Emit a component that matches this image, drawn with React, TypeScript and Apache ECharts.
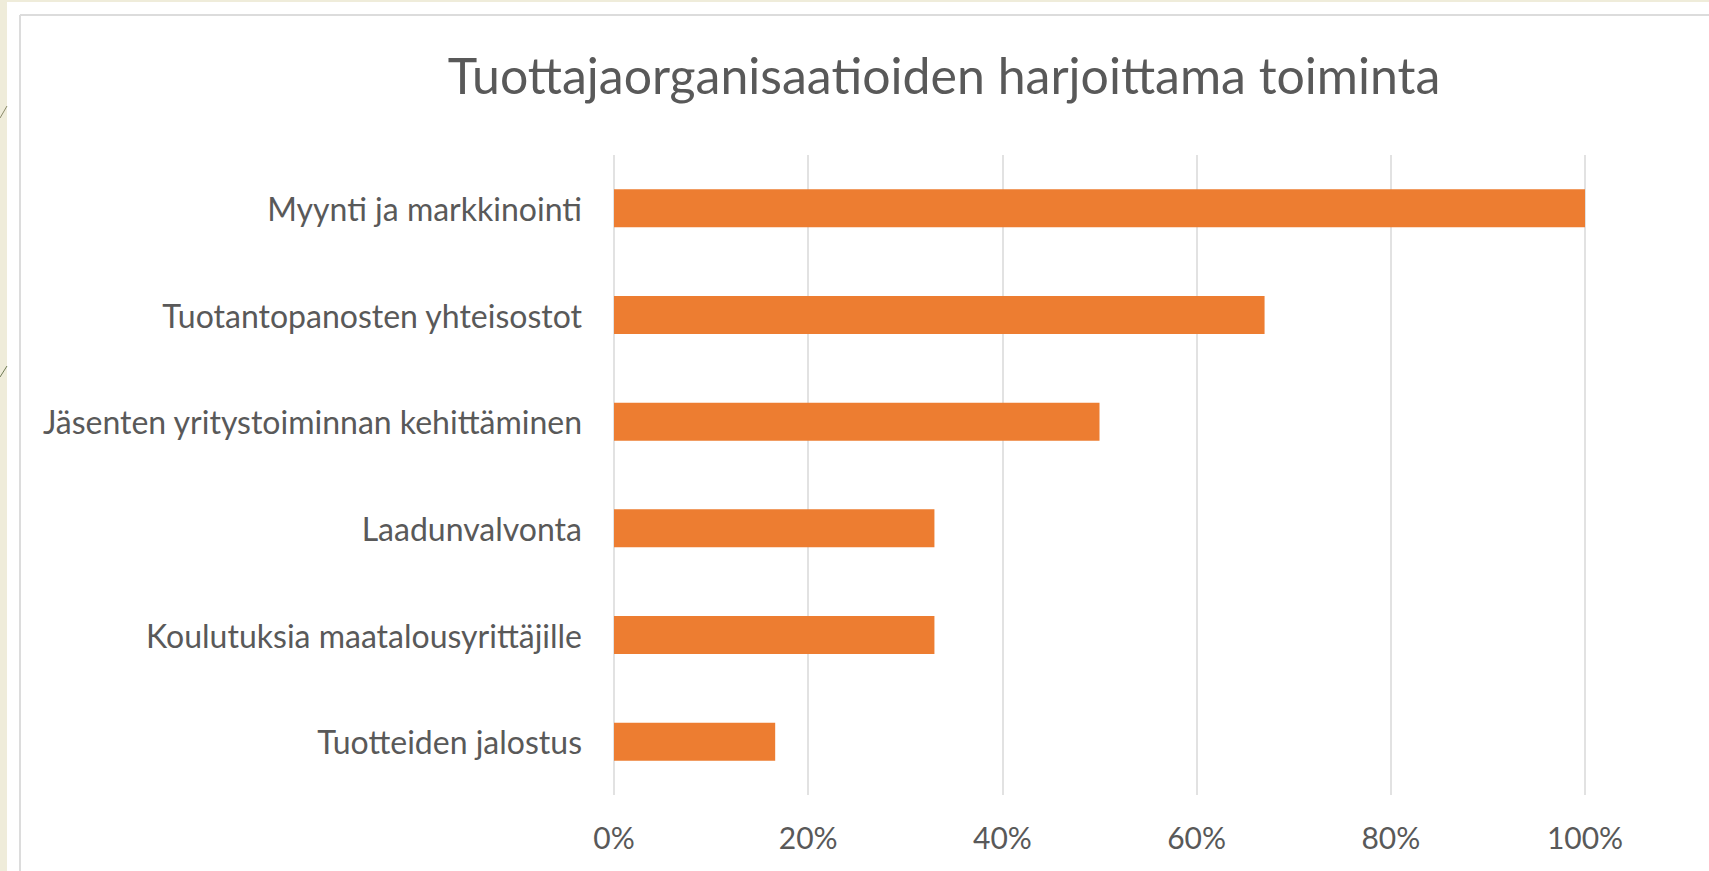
import React, { useEffect, useRef } from "react";
import * as echarts from "echarts";

const categories = [
  "Myynti ja markkinointi",
  "Tuotantopanosten yhteisostot",
  "Jäsenten yritystoiminnan kehittäminen",
  "Laadunvalvonta",
  "Koulutuksia maatalousyrittäjille",
  "Tuotteiden jalostus",
];
const shares = [1.0, 0.67, 0.5, 0.33, 0.33, 0.166];
const titleText = "Tuottajaorganisaatioiden harjoittama toiminta";

const FONT = "Lato, 'Open Sans', sans-serif";
const TEXT = "#595959";

export default function App() {
  const ref = useRef<HTMLDivElement>(null);
  useEffect(() => {
    if (!ref.current) return;
    const chart = echarts.init(ref.current, null, { renderer: "svg" });
    chart.setOption({
      animation: false,
      backgroundColor: "#EFECDA",
      title: {
        text: titleText,
        left: 939,
        top: 45,
        textAlign: "center",
        textStyle: { fontFamily: FONT, fontWeight: "normal", fontSize: 50, color: TEXT },
      },
      graphic: [
        { type: "rect", z: -10, shape: { x: 7, y: 2, width: 1702, height: 869 }, style: { fill: "#ffffff" } },
        { type: "line", z: -9, shape: { x1: 20, y1: 15, x2: 20, y2: 871 }, style: { stroke: "#dcdcdc", lineWidth: 2 } },
        { type: "line", z: -9, shape: { x1: 20, y1: 15, x2: 1709, y2: 15 }, style: { stroke: "#dcdcdc", lineWidth: 2 } },
        { type: "line", z: -9, shape: { x1: 0, y1: 118, x2: 7, y2: 106 }, style: { stroke: "#8a8a6a", lineWidth: 1 } },
        { type: "line", z: -9, shape: { x1: 0, y1: 377, x2: 7, y2: 366 }, style: { stroke: "#6f7a55", lineWidth: 1 } },
      ],
      grid: { left: 614, right: 124, top: 155, bottom: 76, containLabel: false },
      xAxis: {
        type: "value",
        min: 0,
        max: 1,
        interval: 0.2,
        axisLine: { show: false },
        axisTick: { show: false },
        splitLine: { show: true, lineStyle: { color: "#d9d9d9", width: 1.5 } },
        axisLabel: {
          margin: 27,
          fontFamily: FONT,
          fontSize: 30,
          color: TEXT,
          formatter: (v: number) => Math.round(v * 100) + "%",
        },
      },
      yAxis: {
        type: "category",
        data: categories,
        inverse: true,
        axisLine: { show: false },
        axisTick: { show: false },
        axisLabel: { margin: 32, fontFamily: FONT, fontSize: 32, color: TEXT },
      },
      series: [
        {
          type: "bar",
          data: shares,
          barWidth: 38,
          itemStyle: { color: "#ED7D31" },
        },
      ],
    });
    return () => chart.dispose();
  }, []);
  return (
    <div
      ref={ref}
      style={{ position: "fixed", left: 0, top: 0, width: 1709, height: 871 }}
    />
  );
}
